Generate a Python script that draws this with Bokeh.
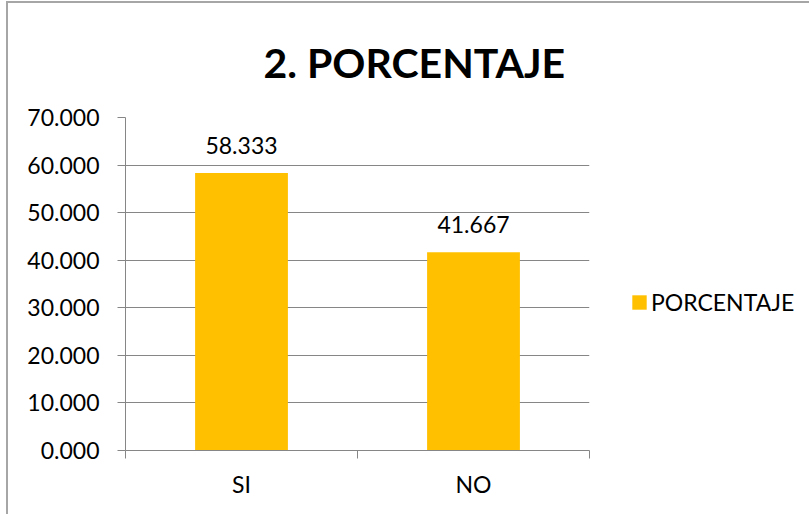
from bokeh.plotting import figure
from bokeh.models import (ColumnDataSource, FixedTicker, Legend, LegendItem, Range1d)
from bokeh.core.properties import value
from bokeh.embed import file_html
from bokeh.resources import INLINE

categories = ["SI", "NO"]
values = [58.333, 41.667]
y_ticks = [0, 10, 20, 30, 40, 50, 60, 70]
series_name = "PORCENTAJE"
title_text = "2. PORCENTAJE"

FONT = "Lato"
GRID = "#868686"
BAR = "#FFC000"

xs = [i + 0.5 for i in range(len(categories))]
src = ColumnDataSource(dict(x=xs, top=values, lbl=[f"{v:.3f}" for v in values]))

p = figure(frame_width=464, frame_height=333, output_backend="svg", toolbar_location=None,
           x_range=Range1d(0, len(categories)), y_range=Range1d(0, 70),
           min_border_left=117, min_border_right=210, min_border_top=114,
           min_border_bottom=64)
p.styles = {"border-left": "2px solid #A6A6A6", "border-top": "2px solid #A6A6A6",
            "margin-left": "6px", "margin-top": "1px"}

p.title.text = title_text
p.title.text_font = FONT
p.title.text_font_style = "bold"
p.title.text_font_size = "41px"
p.title.text_color = "black"
p.title.align = "left"
p.title.offset = 138
p.title.standoff = 61

r = p.vbar(x="x", top="top", width=0.4, bottom=0, source=src, fill_color=BAR, line_color=None)
p.text(x="x", y="top", text="lbl", source=src, text_align="center", text_baseline="middle",
       y_offset=-28, text_font=value(FONT), text_font_size="23px", text_color="black")

p.xgrid.visible = False
p.ygrid.grid_line_color = GRID
p.ygrid.grid_line_width = 1
p.outline_line_color = None
p.background_fill_color = "white"
p.border_fill_color = "white"

p.yaxis.ticker = FixedTicker(ticks=y_ticks)
p.yaxis.major_label_overrides = {t: f"{t:.3f}" for t in y_ticks}
p.yaxis.major_tick_out = 8
p.yaxis.major_tick_in = 0
p.yaxis.minor_tick_out = 0
p.yaxis.minor_tick_in = 0
p.yaxis.major_label_standoff = 18

p.xaxis.ticker = FixedTicker(ticks=xs, minor_ticks=list(range(len(categories) + 1)))
p.xaxis.major_label_overrides = {x: c for x, c in zip(xs, categories)}
p.xaxis.major_tick_out = 0
p.xaxis.major_tick_in = 0
p.xaxis.minor_tick_out = 8
p.xaxis.minor_tick_in = 0
p.xaxis.major_label_standoff = 11

for ax in (p.xaxis, p.yaxis):
    ax.axis_line_color = GRID
    ax.major_tick_line_color = GRID
    ax.minor_tick_line_color = GRID
    ax.major_label_text_font = FONT
    ax.major_label_text_font_size = "23px"
    ax.major_label_text_color = "black"

legend = Legend(items=[LegendItem(label=series_name, renderers=[r])],
                location=(41, 134), orientation="vertical",
                glyph_width=18, glyph_height=18, padding=0, margin=0, spacing=0,
                label_standoff=3, border_line_color=None, background_fill_alpha=0,
                label_text_font=FONT, label_text_font_size="23px", label_text_color="black")
p.add_layout(legend, "right")

open("out.html", "w").write(file_html(p, INLINE))
